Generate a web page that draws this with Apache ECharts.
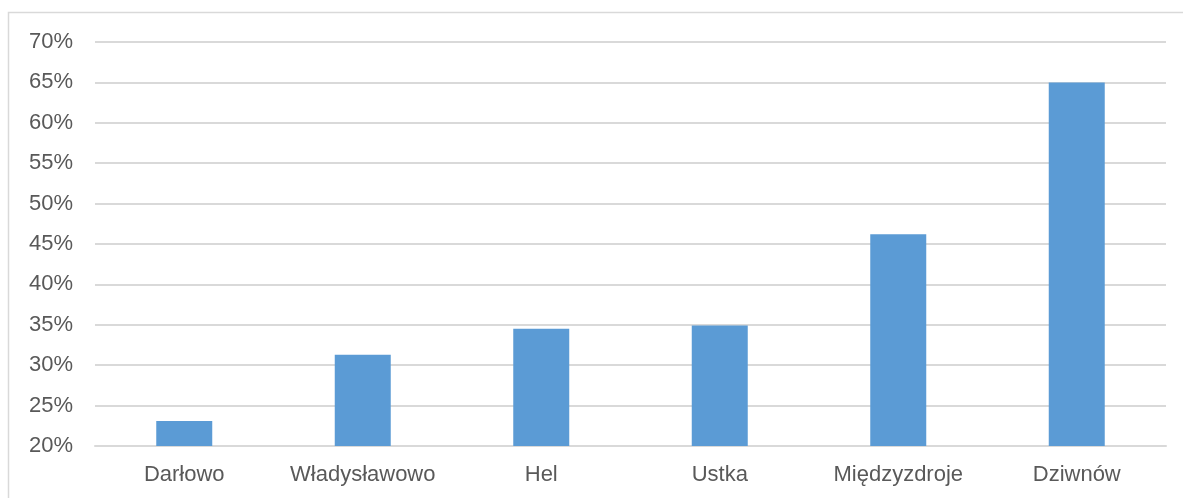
<!DOCTYPE html>
<html><head><meta charset="utf-8">
<script src="https://cdn.jsdelivr.net/npm/echarts@6/dist/echarts.min.js"></script>
<style>html,body{margin:0;padding:0;background:#fff}#c{width:1183px;height:498px}</style>
</head><body><div id="c"></div>
<script>
const categories = ['Darłowo','Władysławowo','Hel','Ustka','Międzyzdroje','Dziwnów'];
const values = [23.1, 31.3, 34.5, 34.9, 46.2, 65.0];
const yMin = 20, yMax = 70, yStep = 5;

const chart = echarts.init(document.getElementById('c'), null, {renderer:'canvas'});
chart.setOption({
  animation:false,
  graphic:[{type:'rect',shape:{x:8.5,y:12.5,width:1200,height:520},style:{fill:'none',stroke:'#d9d9d9',lineWidth:1.5},silent:true}],
  grid:{left:95,right:17,top:42,bottom:52},
  xAxis:{type:'category',data:categories,axisLine:{show:true,lineStyle:{color:'#d9d9d9',width:2}},axisTick:{show:false},
    axisLabel:{interval:0,color:'#595959',fontFamily:'Liberation Sans, Arial',fontSize:22,margin:18}},
  yAxis:{type:'value',min:yMin,max:yMax,interval:yStep,axisLine:{show:false},axisTick:{show:false},
    splitLine:{lineStyle:{color:'#d9d9d9',width:2}},
    axisLabel:{color:'#595959',fontFamily:'Liberation Sans, Arial',fontSize:22,margin:22,formatter:v=>v+'%'}},
  series:[{type:'bar',data:values,barWidth:56,itemStyle:{color:'#5b9bd5'}}]
});
</script></body></html>
